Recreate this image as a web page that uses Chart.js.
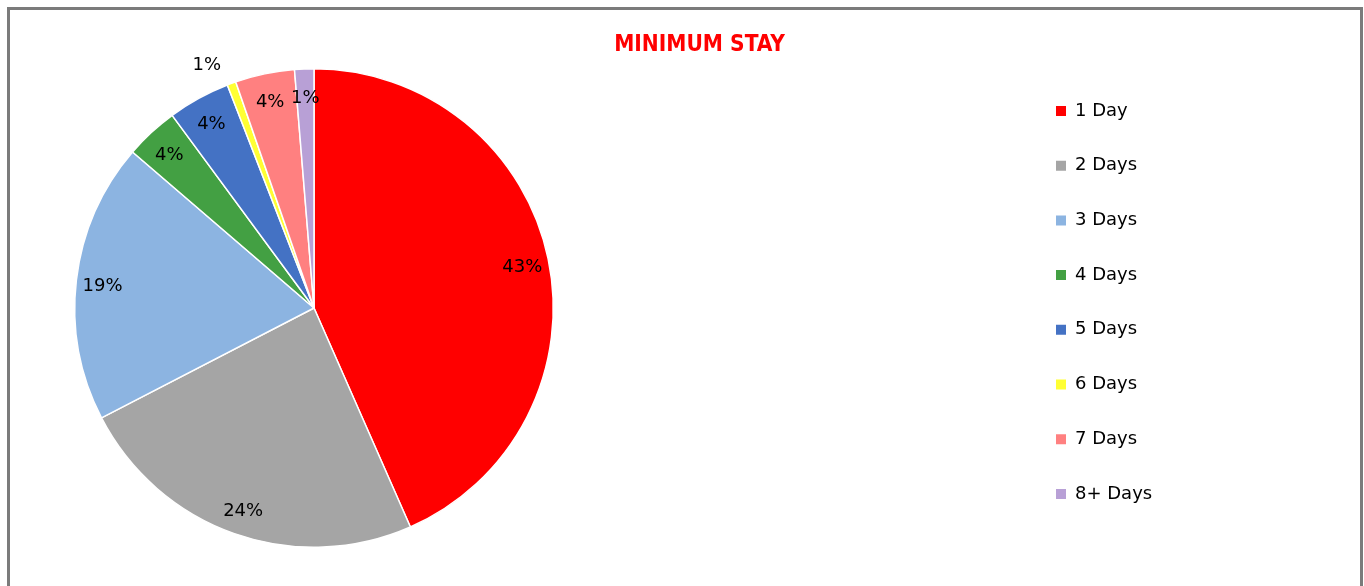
<!DOCTYPE html>
<html>
<head>
<meta charset="utf-8">
<script src="https://cdn.jsdelivr.net/npm/chart.js@4.4.0/dist/chart.umd.min.js"></script>
<style>
  html, body { margin: 0; padding: 0; background: #fff; overflow: hidden; }
  #frame { position: absolute; left: 7px; top: 7px; width: 1356px; height: 640px; box-sizing: border-box; border: 3px solid #7b7b7b; }
  #stay { position: absolute; left: 0; top: 0; }
</style>
</head>
<body>
<div id="frame"></div>
<canvas id="stay" width="1364" height="586"></canvas>
<script>
const categories = ["1 Day", "2 Days", "3 Days", "4 Days", "5 Days", "6 Days", "7 Days", "8+ Days"];
const shares = [43.4, 24.0, 18.9, 3.6, 4.2, 0.6, 4.0, 1.3];
const sliceColors = ["#ff0000", "#a5a5a5", "#8cb4e1", "#43a043", "#4472c4", "#ffff33", "#ff8080", "#b8a0d6"];
const titleText = "MINIMUM STAY";

const legendPad = 36.7;

// pie on the left, legend column far to the right
const placeBoxes = {
  id: "placeBoxes",
  afterLayout: (chart) => {
    const a = chart.chartArea;
    a.left = 74;
    a.right = 554;
    a.top = 68;
    a.bottom = 548;
    a.width = 480;
    a.height = 480;

    const lg = chart.legend;
    const w = lg.width;
    const h = lg.height;
    lg.left = 1056 - legendPad;
    lg.right = lg.left + w;
    lg.top = 102 - legendPad;
    lg.bottom = lg.top + h;
  },
};

const sliceLabels = {
  id: "sliceLabels",
  afterDatasetsDraw: (chart) => {
    const { ctx } = chart;
    const meta = chart.getDatasetMeta(0);
    const total = shares.reduce((s, v) => s + v, 0);
    ctx.save();
    ctx.font = '18px "DejaVu Sans"';
    ctx.fillStyle = "#000";
    ctx.textAlign = "center";
    ctx.textBaseline = "middle";
    meta.data.forEach((arc, i) => {
      const pct = (shares[i] / total) * 100;
      let mid = (arc.startAngle + arc.endAngle) / 2;
      let r = arc.outerRadius * 0.89;
      // thin slices get their label just outside the rim
      if (pct < 1) {
        r = arc.outerRadius * 1.12;
        mid -= 0.06;
      }
      ctx.fillText(Math.round(pct) + "%", arc.x + Math.cos(mid) * r, arc.y + Math.sin(mid) * r + 3);
    });
    ctx.restore();
  },
};

const pieLabels = Chart.overrides.pie.plugins.legend.labels.generateLabels;

new Chart(document.getElementById("stay"), {
  type: "pie",
  data: {
    labels: categories,
    datasets: [
      {
        data: shares,
        backgroundColor: sliceColors,
        borderColor: "#ffffff",
        borderWidth: 1.5,
      },
    ],
  },
  options: {
    responsive: false,
    animation: false,
    layout: {
      padding: { left: 35, right: 0, top: 0, bottom: 0 },
    },
    plugins: {
      title: {
        display: true,
        text: titleText,
        color: "#ff0000",
        font: { family: '"DejaVu Sans Condensed", "DejaVu Sans"', weight: "bold", size: 22.5 },
        padding: { top: 32, bottom: 0 },
      },
      legend: {
        display: true,
        position: "right",
        align: "start",
        labels: {
          boxWidth: 10,
          boxHeight: 10,
          padding: legendPad,
          color: "#000",
          font: { family: '"DejaVu Sans"', size: 18 },
          generateLabels: (chart) => pieLabels(chart).map((item) => ({ ...item, lineWidth: 0 })),
        },
      },
      tooltip: { enabled: false },
    },
  },
  plugins: [placeBoxes, sliceLabels],
});
</script>
</body>
</html>
